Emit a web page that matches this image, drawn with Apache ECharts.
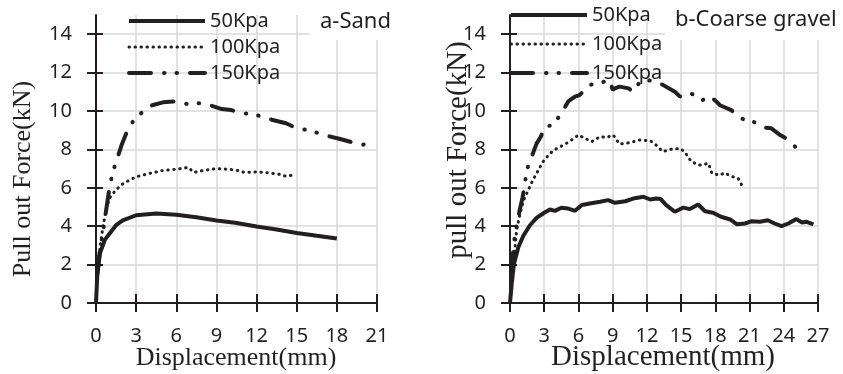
<!DOCTYPE html>
<html>
<head>
<meta charset="utf-8">
<script src="https://cdn.jsdelivr.net/npm/echarts@6/dist/echarts.min.js"></script>
<style>
  html, body { margin: 0; padding: 0; background: #fff; }
  .layer { position: absolute; left: 0; top: 0; width: 843px; height: 374px; }
</style>
</head>
<body>
<div id="frame" class="layer"></div>
<div id="chart" class="layer"></div>
<script>
// tick labels
const yTicks = [0, 2, 4, 6, 8, 10, 12, 14]
const yMax = 15
const sandXTicks = [0, 3, 6, 9, 12, 15, 18, 21]
const gravelXTicks = [0, 3, 6, 9, 12, 15, 18, 21, 24, 27]

const seriesNames = ["50Kpa", "100Kpa", "150Kpa"]

// a-Sand: [displacement (mm), force (kN)]
const sand50 = [[0, 0], [0.1, 1.5], [0.3, 2.6], [0.67, 3.3], [1.05, 3.65], [1.5, 4.05], [2, 4.3], [3, 4.57], [4.5, 4.66], [6, 4.6], [7.5, 4.47], [9, 4.3], [10.4, 4.18], [12, 3.98], [13.5, 3.83], [15, 3.65], [16.5, 3.5], [18, 3.36]]
const sand100 = [[0.05, 1.2], [0.15, 2.0], [0.3, 2.9], [0.55, 4.1], [0.8, 5.0], [1.05, 5.5], [1.5, 5.9], [2, 6.2], [2.5, 6.4], [3, 6.57], [4, 6.75], [5, 6.9], [6, 6.97], [6.9, 7.06], [7.3, 6.8], [8, 6.9], [9, 7.0], [10, 6.96], [10.6, 6.9], [11.1, 6.8], [12, 6.83], [12.9, 6.78], [13.7, 6.7], [14.2, 6.6], [14.7, 6.66]]
const sand150 = [[0.1, 1.5], [0.3, 2.8], [0.5, 3.6], [0.75, 4.8], [1.05, 6.2], [1.34, 7.0], [1.9, 8.2], [2.24, 8.8], [2.8, 9.5], [3.5, 9.97], [4.2, 10.3], [5.0, 10.45], [6.0, 10.5], [6.9, 10.35], [7.7, 10.4], [8.5, 10.3], [9.4, 10.1], [10.1, 10.05], [10.8, 9.9], [11.7, 9.83], [12.5, 9.7], [13.2, 9.53], [14.2, 9.36], [15, 9.1], [15.9, 9.0], [16.6, 8.85], [17.3, 8.7], [18.1, 8.57], [19, 8.4], [19.9, 8.23], [20.4, 8.35]]

// b-Coarse gravel
const gravel50 = [[0, 0], [0.15, 1.0], [0.35, 2.05], [0.73, 2.9], [1.17, 3.5], [1.75, 4.05], [2.33, 4.43], [3, 4.7], [3.5, 4.87], [3.94, 4.8], [4.5, 4.96], [5.1, 4.92], [5.7, 4.8], [6.3, 5.1], [7, 5.18], [7.9, 5.27], [8.6, 5.36], [9.2, 5.22], [10.1, 5.3], [10.8, 5.44], [11.7, 5.53], [12.3, 5.39], [12.8, 5.44], [13.2, 5.42], [13.7, 5.1], [14.45, 4.75], [15.2, 4.97], [15.76, 4.89], [16.5, 5.13], [17.1, 4.78], [17.8, 4.7], [18.5, 4.49], [19.3, 4.35], [19.9, 4.1], [20.6, 4.14], [21.2, 4.26], [21.9, 4.23], [22.6, 4.31], [23.2, 4.14], [23.8, 4.0], [24.4, 4.14], [25.1, 4.37], [25.6, 4.19], [26.0, 4.23], [26.6, 4.1]]
const gravel100 = [[0.05, 0.8], [0.15, 1.5], [0.3, 2.2], [0.44, 2.9], [0.58, 3.8], [0.88, 4.66], [1.2, 5.36], [1.6, 5.88], [2, 6.4], [2.48, 6.92], [2.9, 7.36], [3.5, 7.79], [4.1, 8.05], [4.8, 8.26], [5.4, 8.49], [6, 8.75], [6.6, 8.57], [7.15, 8.4], [7.9, 8.66], [8.5, 8.63], [9.05, 8.75], [9.6, 8.28], [10.5, 8.35], [11.4, 8.49], [12.3, 8.45], [12.8, 8.23], [13.4, 7.88], [14, 8.0], [14.9, 8.05], [15.3, 7.88], [15.9, 7.36], [16.6, 7.18], [17.4, 7.27], [17.7, 6.75], [18.4, 6.66], [18.8, 6.78], [19.4, 6.6], [20, 6.49], [20.4, 6.05], [20.6, 5.97]]
const gravel150 = [[0.1, 1.5], [0.3, 2.8], [0.44, 3.6], [0.82, 4.75], [1.1, 5.5], [1.3, 6.2], [1.46, 6.92], [2.33, 8.3], [2.7, 8.66], [3.06, 9.18], [3.8, 9.27], [4.67, 10.05], [5.1, 10.5], [5.7, 10.75], [6.1, 10.83], [7, 11.36], [7.6, 11.44], [8.3, 11.53], [8.76, 11.6], [9.0, 11.1], [9.2, 11.18], [9.6, 11.27], [10.4, 11.18], [10.8, 11.0], [11.4, 11.53], [12.1, 11.6], [12.8, 11.53], [13.4, 11.36], [14.45, 11.0], [14.9, 10.75], [15.6, 10.96], [16.2, 10.83], [16.9, 10.57], [17.5, 10.78], [18.1, 10.49], [18.4, 10.3], [19.4, 10.05], [20, 9.7], [20.6, 9.53], [21, 9.56], [22.2, 9.15], [22.9, 9.1], [23.6, 8.78], [24.2, 8.57], [25, 8.14], [25.1, 8.3], [25.7, 8.3]]

const ink = "#231f20"
const gridColor = "#d9d9d9"
const sans = "Noto Sans"
const serif = "Liberation Serif"

const lineStyles = {
  "50Kpa": { color: ink, width: 4, type: "solid" },
  "100Kpa": { color: ink, width: 3, type: [0.5, 5.5], cap: "round" },
  "150Kpa": { color: ink, width: 4, type: [22, 13, 0.5, 12, 0.5, 13], cap: "round" },
}

const plotTop = 15
const plotBottom = 71
const plotH = 374 - plotTop - plotBottom
const panels = [
  { left: 96, right: 466, xTicks: sandXTicks },
  { left: 510, right: 25, xTicks: gravelXTicks },
]

// ---- back layer: grid lines and cross ticks only ----
const frame = echarts.init(document.getElementById("frame"))
const fGrids = [], fX = [], fY = [], fSeries = []
const tickStyle = { color: ink, width: 2 }

function addFrameGrid(grid, xAxis, yAxis) {
  const i = fGrids.length
  fGrids.push(grid)
  fX.push({ ...xAxis, gridIndex: i })
  fY.push({ ...yAxis, gridIndex: i })
  fSeries.push({ type: "line", data: [], xAxisIndex: i, yAxisIndex: i })
}

panels.forEach(p => {
  const xMax = p.xTicks[p.xTicks.length - 1]
  const xStep = p.xTicks[1] - p.xTicks[0]
  const yLast = yTicks[yTicks.length - 1]
  const yStep = yTicks[1] - yTicks[0]
  const full = { left: p.left, right: p.right, top: plotTop, bottom: plotBottom }
  // y ticks stop at the last label, the axis itself runs a bit higher
  const toLast = { left: p.left, right: p.right, top: plotTop + plotH * (yMax - yLast) / yMax, bottom: plotBottom }
  const xHidden = { type: "value", min: 0, max: xMax, show: false }
  const yHidden = { type: "value", min: 0, max: yMax, show: false }
  const xBase = { type: "value", min: 0, max: xMax, interval: xStep, axisLine: { show: false }, axisLabel: { show: false } }
  const yBase = { type: "value", min: 0, max: yLast, interval: yStep, axisLine: { show: false }, axisLabel: { show: false } }

  addFrameGrid(full,
    { ...xBase, axisTick: { show: true, length: 9, lineStyle: tickStyle },
      splitLine: { show: true, lineStyle: { color: gridColor, width: 1.5 } } },
    yHidden)
  addFrameGrid(toLast, xHidden,
    { ...yBase, axisTick: { show: true, length: 9, lineStyle: tickStyle },
      splitLine: { show: true, lineStyle: { color: gridColor, width: 1.5 } } })
  addFrameGrid(full,
    { ...xBase, axisTick: { show: true, inside: true, length: 9, lineStyle: tickStyle }, splitLine: { show: false } },
    yHidden)
  addFrameGrid(toLast, xHidden,
    { ...yBase, axisTick: { show: true, inside: true, length: 7, lineStyle: tickStyle }, splitLine: { show: false } })
})

frame.setOption({ animation: false, grid: fGrids, xAxis: fX, yAxis: fY, series: fSeries })

// ---- front layer: axes, labels, curves, legends, titles ----
const chart = echarts.init(document.getElementById("chart"))

function lineSeries(name, data, axisIndex) {
  return {
    name, type: "line", data,
    xAxisIndex: axisIndex, yAxisIndex: axisIndex,
    showSymbol: false, symbol: "none",
    itemStyle: { color: ink },
    lineStyle: { ...lineStyles[name] },
    silent: true,
  }
}

function legendFor(left, top, gap) {
  return {
    orient: "vertical", left, top, itemGap: gap, padding: 0,
    itemWidth: 76, itemHeight: 14, selectedMode: false,
    textStyle: { fontSize: 20, fontFamily: sans, color: ink, lineHeight: 22 },
    data: seriesNames.map(n => ({
      name: n,
      lineStyle: { ...lineStyles[n] },
      itemStyle: { opacity: 0 },
    })),
  }
}

function axisTitle(text, x, y, size, vertical) {
  return {
    type: "text", x, y, z: 5,
    rotation: vertical ? Math.PI / 2 : 0,
    style: { text, fontSize: size, fontFamily: serif, fill: ink, align: "center", verticalAlign: "middle" },
  }
}

chart.setOption({
  animation: false,
  grid: panels.map(p => ({ left: p.left, right: p.right, top: plotTop, bottom: plotBottom })),
  xAxis: panels.map((p, i) => ({
    gridIndex: i, type: "value", min: 0, max: p.xTicks[p.xTicks.length - 1], interval: p.xTicks[1] - p.xTicks[0],
    axisLine: { show: true, onZero: false, lineStyle: { color: ink, width: 2 } },
    axisTick: { show: false },
    axisLabel: { margin: 23, fontSize: 20, fontFamily: sans, color: ink },
    splitLine: { show: false },
  })),
  yAxis: panels.map((p, i) => ({
    gridIndex: i, type: "value", min: 0, max: yMax, interval: yTicks[1] - yTicks[0],
    axisLine: { show: true, onZero: false, lineStyle: { color: ink, width: 2 } },
    axisTick: { show: false },
    axisLabel: { margin: 24, fontSize: 20, fontFamily: sans, color: ink, showMaxLabel: false },
    splitLine: { show: false },
  })),
  legend: [legendFor(127, 10, 4), legendFor(509, 4, 7)],
  graphic: [
    // white boxes behind the panel titles hide the grid lines there
    { type: "rect", shape: { x: 310, y: 0, width: 95, height: 40 }, style: { fill: "#fff" }, z: 1 },
    { type: "rect", shape: { x: 665, y: 0, width: 178, height: 40 }, style: { fill: "#fff" }, z: 1 },
    { type: "text", x: 320, y: 22, z: 5, style: { text: "a-Sand", fontSize: 22, fontFamily: sans, fill: ink, verticalAlign: "middle" } },
    { type: "text", x: 675, y: 20, z: 5, style: { text: "b-Coarse gravel", fontSize: 22, fontFamily: sans, fill: ink, verticalAlign: "middle" } },
    axisTitle("Pull out Force(kN)", 23, 179, 26, true),
    axisTitle("Displacement(mm)", 236, 358, 26, false),
    axisTitle("pull out Force(kN)", 458, 150, 29, true),
    axisTitle("Displacement(mm)", 663, 357, 29, false),
  ],
  series: [
    lineSeries("50Kpa", sand50, 0),
    lineSeries("100Kpa", sand100, 0),
    lineSeries("150Kpa", sand150, 0),
    lineSeries("50Kpa", gravel50, 1),
    lineSeries("100Kpa", gravel100, 1),
    lineSeries("150Kpa", gravel150, 1),
  ],
})
</script>
</body>
</html>
